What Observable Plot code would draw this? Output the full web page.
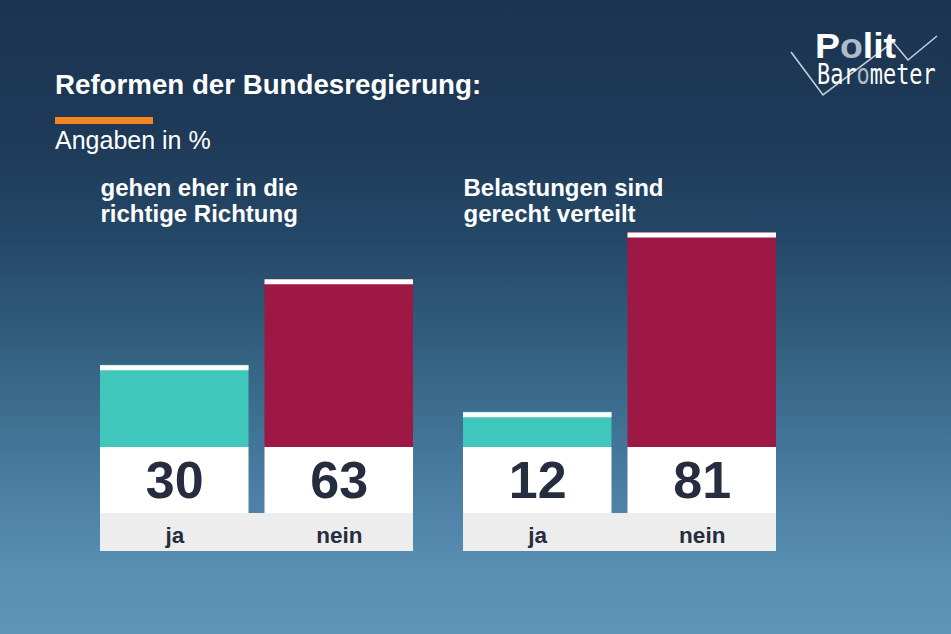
<!DOCTYPE html>
<html>
<head>
<meta charset="utf-8">
<script src="https://cdn.jsdelivr.net/npm/d3@7"></script>
<script src="https://cdn.jsdelivr.net/npm/@observablehq/plot@0.6"></script>
<style>
  html, body { margin: 0; padding: 0; }
  #wrap {
    position: relative; width: 951px; height: 634px; overflow: hidden;
    background: linear-gradient(180deg, #1b3450 0%, #1e3a58 22%, #254868 38%, #33607f 55%, #467b9f 74%, #5a8fb4 90%, #5f95b9 100%);
    font-family: "Liberation Sans", Arial, sans-serif;
  }
  #chart { position: absolute; left: 0; top: 0; }
  .title { position: absolute; left: 55px; top: 70.6px; font-size: 27.7px; font-weight: 700; color: #fff; line-height: 1; white-space: nowrap; }
  .bar { position: absolute; left: 55px; top: 117px; width: 98px; height: 7px; background: #f5861f; }
  .sub { position: absolute; left: 55px; top: 128px; font-size: 25px; color: #fff; line-height: 1; white-space: nowrap; }
  #logo { position: absolute; left: 780px; top: 20px; overflow: visible; }
</style>
</head>
<body>
<div id="wrap">
  <div class="title">Reformen der Bundesregierung:</div>
  <div class="bar"></div>
  <div class="sub">Angaben in %</div>
  <div id="chart"></div>
  <svg id="logo" width="171" height="90" viewBox="780 20 171 90">
    <polyline points="791,52 823,95 893,42 908,60 937,36" fill="none" stroke="#c3cfdb" stroke-width="1.6"/>
    <g transform="translate(815,58) scale(1.07,1)" font-family="Liberation Sans, Arial, sans-serif" font-weight="700" font-size="35">
      <text x="0" y="0" fill="#fff">P</text>
      <text x="23.3" y="0" fill="#aebccb">o</text>
      <text x="44.7" y="0" fill="#fff">lit</text>
    </g>
    <g transform="translate(817,84) scale(0.756,1)" font-family="DejaVu Sans Mono, monospace" font-size="29">
      <text x="0" y="0" fill="#fff">Bar</text>
      <text x="52.4" y="0" fill="#aebccb">o</text>
      <text x="69.8" y="0" fill="#fff">meter</text>
    </g>
  </svg>
</div>
<script>
// Data
const groups = ["gehen eher in die\nrichtige Richtung", "Belastungen sind\ngerecht verteilt"];
const answers = ["ja", "nein"];
const valuesRichtung = [30, 63];
const valuesGerecht = [12, 81];
const answerColors = ["#3ec7ba", "#9e1846"];

const seriesValues = [valuesRichtung, valuesGerecht];
const rows = groups.flatMap((g, gi) => answers.map((a, ai) => ({group: g, answer: a, value: seriesValues[gi][ai]})));
const groupRows = groups.map(g => ({group: g}));

const ink = "#252d3e";

const chart = Plot.plot({
  width: 951,
  height: 634,
  marginLeft: 100,
  marginRight: 175,
  marginTop: 0,
  marginBottom: 83,
  style: {background: "transparent", overflow: "visible", fontFamily: "Liberation Sans, Arial, sans-serif"},
  fx: {domain: groups, paddingInner: 0.1377, paddingOuter: 0, round: false, axis: null, label: null},
  x: {domain: answers, paddingInner: 0.0973, paddingOuter: 0, round: false, axis: null, label: null},
  y: {domain: [0, 170], range: [443, 0], axis: null},
  color: {domain: answers, range: answerColors},
  marks: [
    Plot.rect(groupRows, {fx: "group", y1: 0, y2: 0, insetTop: 70, insetBottom: -108, fill: "#eeeded"}),
    Plot.barY(rows, {fx: "group", x: "answer", y1: 0, y2: 0, insetTop: 4, insetBottom: -70, fill: "white"}),
    Plot.barY(rows, {fx: "group", x: "answer", y: "value", fill: "answer", insetBottom: -4}),
    Plot.tickY(rows, {fx: "group", x: "answer", y: "value", stroke: "white", strokeWidth: 5, dy: 2.5}),
    Plot.text(rows, {fx: "group", x: "answer", y: 0, text: "value", dy: 38, fontSize: 52, fontWeight: 700, fill: ink}),
    Plot.text(rows, {fx: "group", x: "answer", y: 0, text: "answer", dy: 92, fontSize: 22.5, fontWeight: 700, fill: ink}),
    Plot.text(groupRows, {fx: "group", frameAnchor: "top-left", text: "group", lineAnchor: "top", textAnchor: "start", dy: 178, fontSize: 24, fontWeight: 700, fill: "white", lineHeight: 1.05})
  ]
});
document.getElementById("chart").appendChild(chart);
</script>
</body>
</html>
